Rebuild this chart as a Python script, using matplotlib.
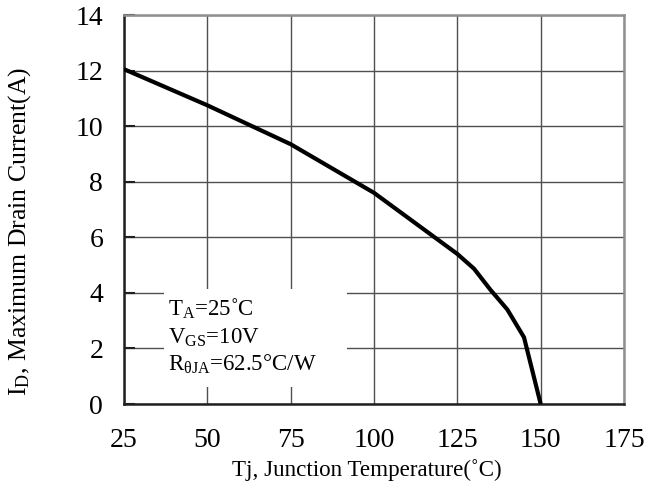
import matplotlib
matplotlib.use("Agg")
import matplotlib.pyplot as plt
from matplotlib.patches import Rectangle

temps = [25, 50, 75, 100, 125, 130, 135, 140, 145, 150]
current = [12.05, 10.75, 9.35, 7.6, 5.4, 4.87, 4.1, 3.4, 2.4, 0.0]
x_ticks = [25, 50, 75, 100, 125, 150, 175]
y_ticks = [0, 2, 4, 6, 8, 10, 12, 14]

plt.rcParams['font.family'] = ['Liberation Serif', 'DejaVu Serif']
plt.rcParams['mathtext.fontset'] = 'custom'
plt.rcParams['mathtext.rm'] = 'Liberation Serif'
plt.rcParams['mathtext.it'] = 'Liberation Serif'

fig = plt.figure(figsize=(6.56, 4.88), dpi=100)
ax = fig.add_axes([124/656, 1-404/488, 500/656, 389/488])

ax.set_xlim(25, 175)
ax.set_ylim(0, 14)
ax.set_xticks(x_ticks)
ax.set_yticks(y_ticks)
ax.grid(True, color='#505050', linewidth=1.0)
ax.set_axisbelow(True)

# legend box covering the grid
ax.add_patch(Rectangle((37.0, 0.6), 54.8, 3.55, facecolor='white', edgecolor='none', zorder=1.5))

ax.plot(temps, current, color='black', linewidth=3.0, zorder=3, solid_capstyle='butt')

for s in ['left', 'bottom']:
    ax.spines[s].set_color('#202020')
    ax.spines[s].set_linewidth(1.8)
for s in ['top', 'right']:
    ax.spines[s].set_color('#909090')
    ax.spines[s].set_linewidth(1.8)

ax.tick_params(axis='y', direction='in', length=8, width=1.5, color='#202020', pad=15, labelsize=20)
ax.tick_params(axis='x', length=0, pad=17, labelsize=20)

ax.set_xlabel('Tj, Junction Temperature(˚C)', fontsize=16.6)
ax.set_ylabel(r'I$_\mathregular{D}$, Maximum Drain Current(A)', fontsize=18.5)
ax.xaxis.set_label_coords(0.486, -0.142, transform=ax.transAxes)
ax.yaxis.set_label_coords(-0.182, 0.445, transform=ax.transAxes)

fs = 16.5
ax.text(38.3, 3.42, r'T$_\mathregular{A}$=25˚C', fontsize=fs, va='center', ha='left', zorder=4)
ax.text(38.3, 2.38, r'V$_\mathregular{GS}$=10V', fontsize=fs, va='center', ha='left', zorder=4)
ax.text(38.3, 1.43, r'R$_\mathregular{θJA}$=62.5°C/W', fontsize=fs, va='center', ha='left', zorder=4)

fig.savefig('out.png', dpi=100)
